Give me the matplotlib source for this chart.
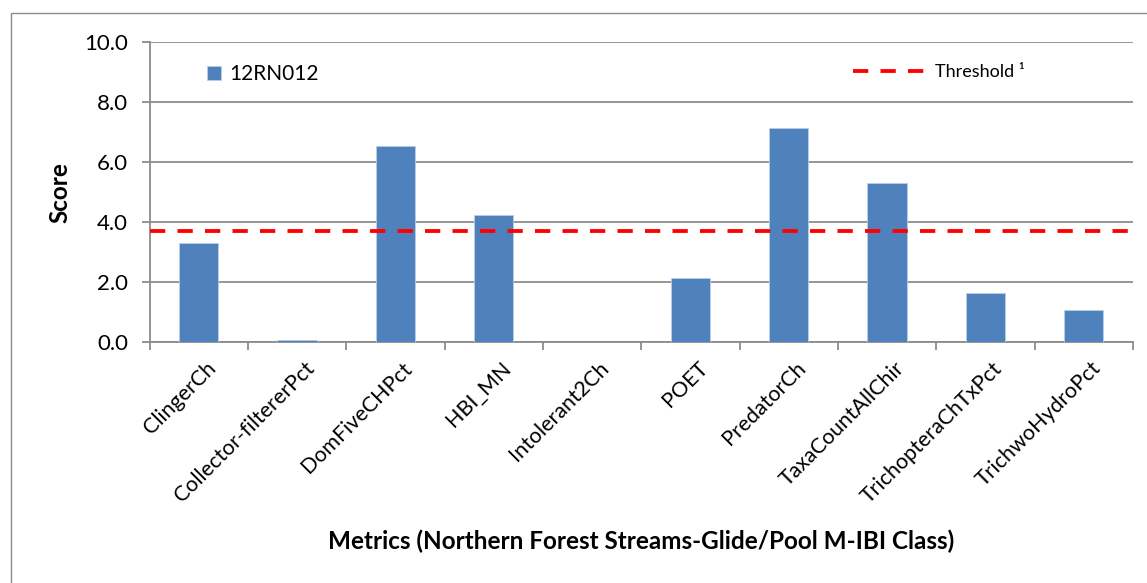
import matplotlib
matplotlib.use("Agg")
import matplotlib.pyplot as plt
from matplotlib.patches import Rectangle
from matplotlib.lines import Line2D
from matplotlib.transforms import ScaledTranslation
import numpy as np

plt.rcParams['font.family'] = ['Lato', 'DejaVu Sans']

metrics = ["ClingerCh", "Collector-filtererPct", "DomFiveCHPct", "HBI_MN",
           "Intolerant2Ch", "POET", "PredatorCh", "TaxaCountAllChir",
           "TrichopteraChTxPct", "TrichwoHydroPct"]
scores = [3.32, 0.07, 6.53, 4.23, 0.0, 2.13, 7.13, 5.31, 1.63, 1.09]
threshold = 3.7
site = "12RN012"
y_ticks = [0.0, 2.0, 4.0, 6.0, 8.0, 10.0]

W, H = 1147, 583
fig = plt.figure(figsize=(W / 100, H / 100), dpi=100)
fig.patch.set_facecolor("white")

# outer chart frame
fig.add_artist(Rectangle((11 / W, -0.01), 1.05, 1 - 13 / H + 0.01,
                         transform=fig.transFigure, fill=False,
                         edgecolor="#8c8c8c", lw=1.0))

left, right = 149.5 / W, 1133 / W
top, bottom = 1 - 42.3 / H, 1 - 342.3 / H
ax = fig.add_axes([left, bottom, right - left, top - bottom])

grid_c = "#8c8c8c"
x = np.arange(len(metrics))
ax.bar(x, scores, width=0.4, color="#4F81BD", edgecolor="#b9cde5",
       linewidth=0.6, zorder=3, label=site)
ax.axhline(threshold, color="#ff0000", lw=2.75, dashes=(4, 3.2), zorder=4)

ax.set_xlim(-0.5, len(metrics) - 0.5)
ax.set_ylim(0, 10)
ax.set_yticks(y_ticks)
ax.set_yticklabels([f"{v:.1f}" for v in y_ticks], fontsize=16)
ax.yaxis.grid(True, color=grid_c, lw=1.3, zorder=0)
ax.set_axisbelow(True)

ax.set_xticks(np.arange(len(metrics) + 1) - 0.5)
ax.set_xticklabels([])
ax.set_xticks(x, minor=True)
ax.set_xticklabels(metrics, minor=True, rotation=45, ha="right",
                   va="center", rotation_mode="anchor", fontsize=15.4)
ax.tick_params(axis="x", which="minor", length=0, pad=16.5)
ax.tick_params(axis="x", which="major", length=6, color=grid_c, width=1.3)
ax.tick_params(axis="y", length=6, color=grid_c, width=1.3, pad=9.5)
shift = ScaledTranslation(14 / 100, 0, fig.dpi_scale_trans)
for lab in ax.get_xticklabels(minor=True):
    lab.set_transform(lab.get_transform() + shift)

for s in ["top", "right"]:
    ax.spines[s].set_visible(False)
for s in ["left", "bottom"]:
    ax.spines[s].set_color(grid_c)
    ax.spines[s].set_linewidth(1.3)

ax.set_ylabel("Score", fontsize=17.5, fontweight="bold", labelpad=9)
fig.text((left + right) / 2, 1 - 541 / H,
         "Metrics (Northern Forest Streams-Glide/Pool M-IBI Class)",
         ha="center", va="center", fontsize=17.5, fontweight="bold")

leg1 = ax.legend(loc="center left", bbox_to_anchor=(0.058, 0.894),
                 frameon=False, fontsize=15, handlelength=0.7,
                 handleheight=0.7, handletextpad=0.4, borderpad=0,
                 borderaxespad=0)
ax.add_artist(leg1)
thr_handle = Line2D([], [], color="#ff0000", lw=2.75, dashes=(4, 3.2))
ax.legend([thr_handle], ["Threshold \u00b9"], loc="center left",
          bbox_to_anchor=(0.715, 0.9), frameon=False, fontsize=13,
          handlelength=4.0, handletextpad=0.55, borderpad=0,
          borderaxespad=0)

fig.savefig("out.png", dpi=100)
